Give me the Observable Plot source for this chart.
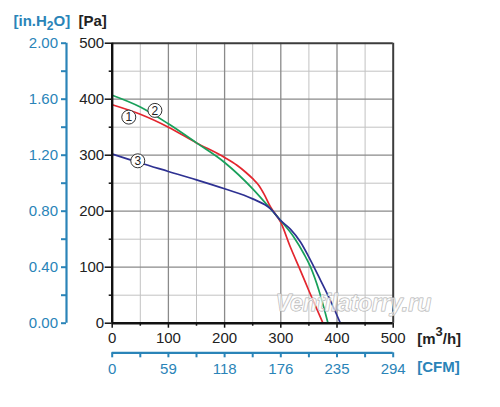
<!DOCTYPE html>
<html><head><meta charset="utf-8">
<script src="https://cdn.jsdelivr.net/npm/d3@7"></script>
<script src="https://cdn.jsdelivr.net/npm/@observablehq/plot@0.6"></script>
<style>body{margin:0;background:#fff;overflow:hidden} svg{display:block}</style>
</head><body><div id="chart"></div>
<script>
// Tick values and labels
const flowMajor = [0, 100, 200, 300, 400, 500];
const flowMinor = [50, 150, 250, 350, 450];
const paMajor = [0, 100, 200, 300, 400, 500];
const paMinor = [50, 150, 250, 350, 450];
const cfmLabels = ["0", "59", "118", "176", "235", "294"];
const inh2oLabels = ["0.00", "0.40", "0.80", "1.20", "1.60", "2.00"];

// Curve 1 (red)
const c1Flow = [0, 50, 100, 150, 200, 222, 237, 250, 261, 270, 282, 300, 317, 335, 350, 375];
const c1Pa   = [390, 373, 350, 322, 296, 282, 270, 258, 246, 231, 207, 180, 136, 94, 58, 0];
// Curve 2 (green)
const c2Flow = [0, 50, 100, 150, 200, 250, 282, 300, 323, 341, 353, 368, 384];
const c2Pa   = [407, 386, 356, 322, 287, 240, 204, 183, 154, 124, 100, 58, 0];
// Curve 3 (blue)
const c3Flow = [0, 50, 100, 150, 200, 250, 282, 300, 317, 335, 350, 371, 388, 406];
const c3Pa   = [302, 286, 271, 256, 240, 222, 204, 183, 168, 145, 118, 76, 41, 0];

// Curve number markers
const markerFlow = [29.5, 76, 45.5];
const markerPa = [368, 380, 290];
const markerText = ["1", "2", "3"];

const BLUE_AX = "#2a84b8";
const colors = ["#e3262e", "#18a05a", "#2e3192"];

const series = [
  {flow: c1Flow, pa: c1Pa},
  {flow: c2Flow, pa: c2Pa},
  {flow: c3Flow, pa: c3Pa}
];

const font = "Liberation Sans, Arial, sans-serif";

const marks = [
  // grid
  Plot.ruleX(flowMinor, {stroke: "#c2c2c2", strokeWidth: 1}),
  Plot.ruleY(paMinor, {stroke: "#c2c2c2", strokeWidth: 1}),
  Plot.ruleX(flowMajor.slice(1, 5), {stroke: "#8a8a8a", strokeWidth: 1.3}),
  Plot.ruleY(paMajor.slice(1, 5), {stroke: "#8a8a8a", strokeWidth: 1.3}),
  // frame top & right
  Plot.ruleY([500], {stroke: "#3c3c3c", strokeWidth: 2}),
  Plot.ruleX([500], {stroke: "#3c3c3c", strokeWidth: 2}),
  // curves
  ...series.map((s, i) => Plot.line(s.flow.map((f, j) => ({f, p: s.pa[j]})), {
    x: "f", y: "p", stroke: colors[i], strokeWidth: 1.7, curve: "monotone-x"
  })),
  // main axes lines
  Plot.ruleX([0], {stroke: "#111", strokeWidth: 2.4}),
  Plot.ruleY([0], {stroke: "#111", strokeWidth: 2.4}),
  // black axes
  Plot.axisY({ticks: paMajor, tickSize: 7, tickPadding: 1, fontSize: 15, stroke: "#111", fill: "#222", strokeWidth: 1.5, label: null}),
  Plot.axisY({ticks: paMinor, tickSize: 3, tickFormat: () => "", stroke: "#111", strokeWidth: 1.5, label: null}),
  Plot.axisX({ticks: flowMajor, tickSize: 5, tickPadding: 4, fontSize: 15, stroke: "#111", fill: "#222", strokeWidth: 1.5, label: null}),
  Plot.axisX({ticks: flowMinor, tickSize: 3, tickFormat: () => "", stroke: "#111", strokeWidth: 1.5, label: null}),
  // blue secondary y axis (in.H2O)
  Plot.ruleX([0], {dx: -45.7, stroke: BLUE_AX, strokeWidth: 2.2}),
  Plot.axisY({ticks: paMajor.concat(paMinor), tickSize: 5, tickPadding: 3.5, dx: -45.7, fontSize: 15,
    stroke: BLUE_AX, fill: BLUE_AX, strokeWidth: 2, label: null,
    tickFormat: d => d % 100 === 0 ? inh2oLabels[d / 100] : ""}),
  // blue secondary x axis (CFM)
  Plot.ruleY([0], {dy: 29.6, stroke: BLUE_AX, strokeWidth: 2.2}),
  Plot.axisX({ticks: flowMajor.concat(flowMinor), tickSize: 5, tickPadding: 6, dy: 29.6, fontSize: 15,
    stroke: BLUE_AX, fill: BLUE_AX, strokeWidth: 2, label: null,
    tickFormat: d => d % 100 === 0 ? cfmLabels[d / 100] : ""}),
  // curve markers
  Plot.dot(markerText.map((t, i) => ({f: markerFlow[i], p: markerPa[i]})), {
    x: "f", y: "p", r: 7, fill: "white", stroke: "#333", strokeWidth: 1
  }),
  Plot.text(markerText.map((t, i) => ({f: markerFlow[i], p: markerPa[i], t})), {
    x: "f", y: "p", text: "t", fontSize: 12, fill: "#222", dy: 0.5
  }),
  // axis titles
  Plot.text(["[in.H2O]"], {frameAnchor: "top-left", textAnchor: "start", lineAnchor: "middle",
    dx: 13 - 111.7, dy: -21.8, fontSize: 15, fontWeight: "bold", fill: BLUE_AX}),
  Plot.text(["[Pa]"], {frameAnchor: "top-left", textAnchor: "start", lineAnchor: "middle",
    dx: 78 - 111.7, dy: -21.8, fontSize: 15, fontWeight: "bold", fill: "#222"}),
  Plot.text(["[m3/h]"], {frameAnchor: "bottom-right", textAnchor: "start", lineAnchor: "middle",
    dx: 416.7 - 392.7, dy: 343 - 4.8 - 322.7, fontSize: 15, fontWeight: "bold", fill: "#222"}),
  Plot.text(["[CFM]"], {frameAnchor: "bottom-right", textAnchor: "start", lineAnchor: "middle",
    dx: 416.7 - 392.7, dy: 371 - 4.8 - 322.7, fontSize: 15, fontWeight: "bold", fill: BLUE_AX}),
  // watermark
  Plot.text(["Ventilatorry.ru"], {frameAnchor: "bottom-right", textAnchor: "middle", lineAnchor: "middle",
    dx: 353 - 392.7, dy: -19.2, fontSize: 23, fontWeight: "bold", fontStyle: "italic",
    fill: "rgba(255,255,255,0.65)", stroke: "#b0b0b0", strokeWidth: 1})
];

const chart = Plot.plot({
  width: 500,
  height: 407,
  marginLeft: 111.7,
  marginRight: 107.3,
  marginTop: 42.7,
  marginBottom: 84.3,
  x: {domain: [0, 500]},
  y: {domain: [0, 500]},
  style: {fontFamily: font, fontSize: "15px", background: "white", overflow: "visible"},
  marks
});
document.getElementById("chart").append(chart);

// sub/superscripts in unit titles
d3.select(chart).selectAll("text").each(function() {
  const t = this.textContent;
  const sel = d3.select(this);
  if (t === "[in.H2O]") {
    sel.text(null);
    sel.append("tspan").text("[in.H");
    sel.append("tspan").attr("dy", 4).attr("font-size", 12).text("2");
    sel.append("tspan").attr("dy", -4).text("O]");
  } else if (t === "[m3/h]") {
    sel.text(null);
    sel.append("tspan").text("[m");
    sel.append("tspan").attr("dy", -8).attr("font-size", 13).text("3");
    sel.append("tspan").attr("dy", 8).text("/h]");
  }
});
</script>
</body></html>
